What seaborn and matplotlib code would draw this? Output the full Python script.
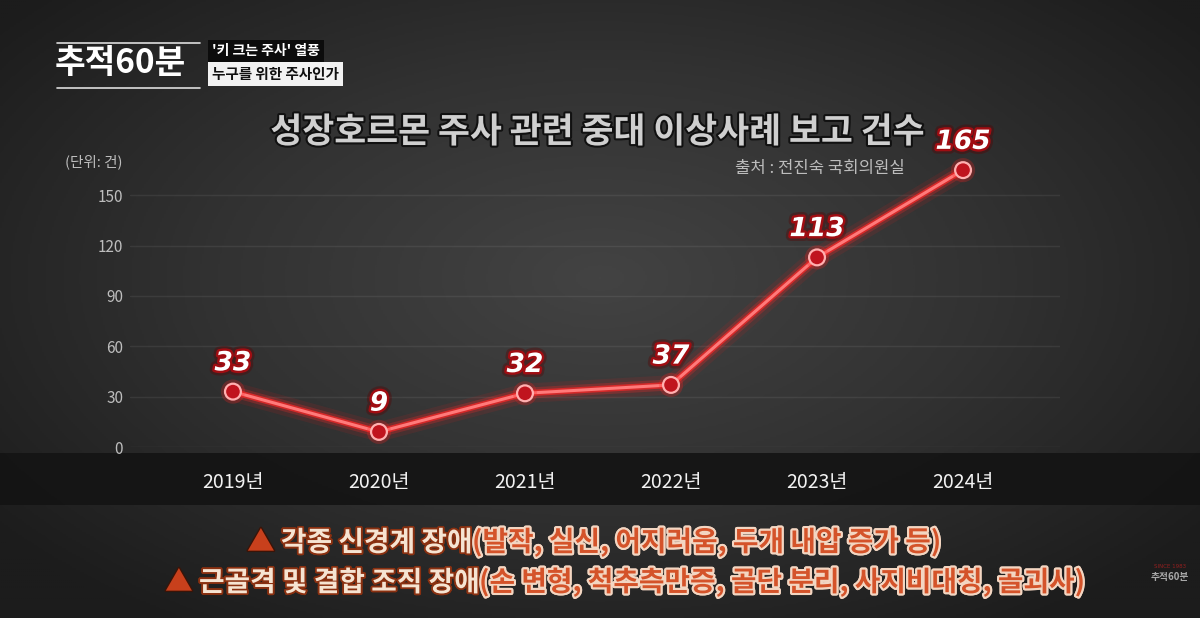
import numpy as np
import pandas as pd
import matplotlib
matplotlib.use("Agg")
import matplotlib.pyplot as plt
import matplotlib.patheffects as pe
from matplotlib.patches import Rectangle
import seaborn as sns

# ---- data ----
years = ["2019년", "2020년", "2021년", "2022년", "2023년", "2024년"]
counts = [33, 9, 32, 37, 113, 165]
y_ticks = [0, 30, 60, 90, 120, 150]

title = "성장호르몬 주사 관련 중대 이상사례 보고 건수"
source = "출처 : 전진숙 국회의원실"
unit = "(단위: 건)"
note1_head, note1_body = "각종 신경계 장애", "(발작, 실신, 어지러움, 두개 내압 증가 등)"
note2_head, note2_body = "근골격 및 결합 조직 장애", "(손 변형, 척추측만증, 골단 분리, 사지비대칭, 골괴사)"

sns.set_theme(style="dark")
KR = ["Noto Sans CJK KR", "DejaVu Sans"]
plt.rcParams["font.family"] = KR

W, H = 1200, 618
fig = plt.figure(figsize=(W / 100, H / 100), dpi=100)
fig.patch.set_facecolor("#262626")

# background chalkboard-like gradient
bg = fig.add_axes([0, 0, 1, 1], zorder=-10)
yy, xx = np.mgrid[0:1:300j, 0:1:600j]
r = np.sqrt(((xx - 0.5) / 0.75) ** 2 + ((yy - 0.45) / 0.8) ** 2)
bg.imshow(r, cmap=matplotlib.colors.LinearSegmentedColormap.from_list(
    "bgc", ["#434343", "#323232", "#1c1c1c"]), extent=[0, 1, 0, 1],
    aspect="auto", vmin=0, vmax=0.85, origin="upper")
bg.set_axis_off()

# dark band behind x tick labels
fig.patches.append(Rectangle((0, 1 - 505 / H), 1, 52 / H, transform=fig.transFigure,
                             facecolor="#141414", edgecolor="none", alpha=0.92, zorder=-5))

# main axes
ax = fig.add_axes([130 / W, 1 - 447 / H, 930 / W, 297 / H])
ax.set_facecolor("none")
df = pd.DataFrame({"year": years, "count": counts})

line_fx = [pe.Stroke(linewidth=14, foreground="#ff1a1a", alpha=0.10),
           pe.Stroke(linewidth=8, foreground="#ff2a2a", alpha=0.25),
           pe.Stroke(linewidth=4.5, foreground="#e02828", alpha=0.9),
           pe.Normal()]
sns.lineplot(data=df, x="year", y="count", ax=ax, color="#ff7a7a", linewidth=2.2,
             sort=False, zorder=3)
ax.lines[0].set_path_effects(line_fx)
sns.scatterplot(data=df, x="year", y="count", ax=ax, s=130, color="#c0141e",
                edgecolor="#ffb0b0", linewidth=1.6, zorder=4)
for c in ax.collections:
    c.set_path_effects([pe.Stroke(linewidth=6, foreground="#ff2020", alpha=0.25), pe.Normal()])

for i, v in enumerate(counts):
    ax.annotate(str(v), (i, v), xytext=(0, 11), textcoords="offset points",
                ha="center", va="bottom", fontsize=19, fontweight="bold",
                fontstyle="italic", family="DejaVu Sans", color="white", zorder=6,
                path_effects=[pe.withStroke(linewidth=7, foreground="#5a0000", alpha=0.35),
                              pe.withStroke(linewidth=3.5, foreground="#a00d12")])

ax.set_xlim(-0.705, 5.664)
ax.set_ylim(0, 177)
ax.set_yticks(y_ticks)
ax.set_yticklabels([str(t) for t in y_ticks])
ax.tick_params(axis="y", colors="#bdbdbd", labelsize=11, pad=5, length=0)
ax.tick_params(axis="x", colors="#f2f2f2", labelsize=14, pad=18, length=0)
ax.set_xlabel("")
ax.set_ylabel("")
ax.grid(axis="y", color="white", alpha=0.07, linewidth=1)
ax.grid(axis="x", visible=False)
for s in ax.spines.values():
    s.set_visible(False)

# titles and notes
fig.text(598 / W, 1 - 132 / H, title, ha="center", va="center", fontsize=25,
         fontweight="bold", color="#cfcfcf",
         path_effects=[pe.withStroke(linewidth=3, foreground="#111111")])
fig.text(905 / W, 1 - 169 / H, source, ha="right", va="center", fontsize=12,
         color="#bdbdbd")
fig.text(65 / W, 1 - 162 / H, unit, ha="left", va="center", fontsize=10.5,
         color="#bdbdbd")

# logo
fig.text(55 / W, 1 - 64 / H, "추적60분", ha="left", va="center", fontsize=24,
         fontweight="heavy", color="white")
for yl in (43, 88):
    fig.add_artist(plt.Line2D([57 / W, 200 / W], [1 - yl / H, 1 - yl / H],
                              transform=fig.transFigure, color="#dddddd", linewidth=1.2))
fig.text(212 / W, 1 - 51 / H, "'키 크는 주사' 열풍", ha="left", va="center", fontsize=10,
         color="white", fontweight="bold",
         bbox=dict(boxstyle="square,pad=0.3", facecolor="#0c0c0c", edgecolor="none"))
fig.text(212 / W, 1 - 74 / H, "누구를 위한 주사인가", ha="left", va="center", fontsize=10.5,
         color="#111111", fontweight="bold",
         bbox=dict(boxstyle="square,pad=0.3", facecolor="#f2f2f2", edgecolor="none"))

fig.text(1170 / W, 1 - 577 / H, "추적60분", ha="center", va="center", fontsize=7,
         fontweight="bold", color="#cccccc", alpha=0.8)
fig.text(1170 / W, 1 - 567 / H, "SINCE 1983", ha="center", va="center", fontsize=4,
         color="#b02020", alpha=0.8, family="DejaVu Sans")

orange = "#d4532a"
cream = "#f6e4d2"
FS = 20
def note_line(x0, yc, head, body):
    t0 = fig.text(x0 / W, 1 - yc / H, "▲ ", ha="left", va="center", fontsize=FS,
                  color="#c8401c", fontweight="bold",
                  path_effects=[pe.withStroke(linewidth=2, foreground="#3a1408")])
    a1 = plt.annotate(head, xy=(1, 0), xycoords=t0, va="bottom", ha="left",
                      fontsize=FS, fontweight="bold", color=cream,
                      path_effects=[pe.withStroke(linewidth=2.5, foreground="#8a3010")],
                      annotation_clip=False)
    fig.add_artist(a1)
    a2 = plt.annotate(body, xy=(1, 0), xycoords=a1, va="bottom", ha="left",
                      fontsize=FS, fontweight="bold", color=orange,
                      path_effects=[pe.withStroke(linewidth=3, foreground="#f3d6c2")],
                      annotation_clip=False)
    fig.add_artist(a2)

note_line(247, 543, note1_head, note1_body)
note_line(165, 583, note2_head, note2_body)

fig.savefig("out.png", dpi=100, facecolor=fig.get_facecolor())
